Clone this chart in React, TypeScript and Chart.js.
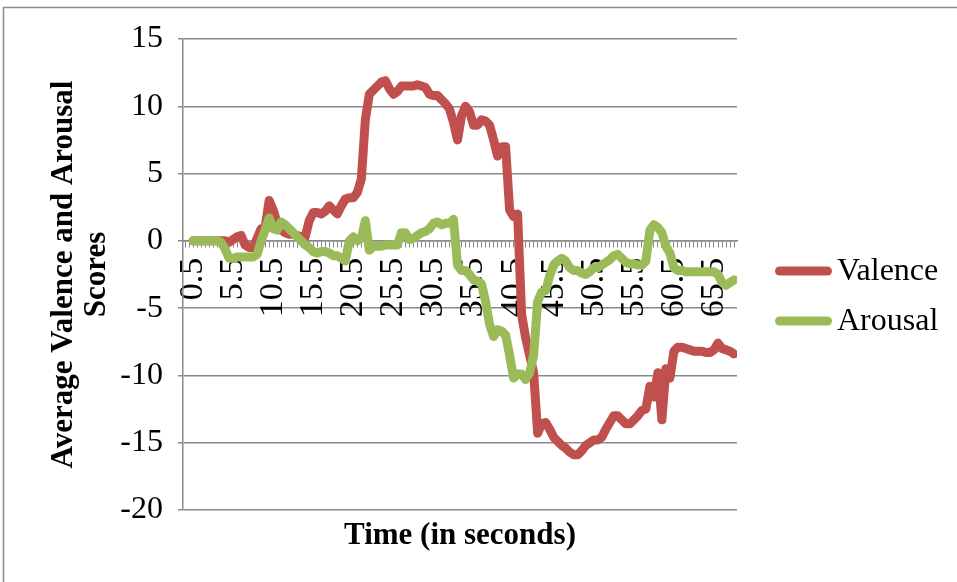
import { useEffect, useRef } from "react";
import { Chart, registerables } from "chart.js";

Chart.register(...registerables);

// Sample times (seconds), one every half second
const TIME_LABELS = [
  0.5, 1, 1.5, 2, 2.5, 3, 3.5, 4, 4.5, 5,
  5.5, 6, 6.5, 7, 7.5, 8, 8.5, 9, 9.5, 10,
  10.5, 11, 11.5, 12, 12.5, 13, 13.5, 14, 14.5, 15,
  15.5, 16, 16.5, 17, 17.5, 18, 18.5, 19, 19.5, 20,
  20.5, 21, 21.5, 22, 22.5, 23, 23.5, 24, 24.5, 25,
  25.5, 26, 26.5, 27, 27.5, 28, 28.5, 29, 29.5, 30,
  30.5, 31, 31.5, 32, 32.5, 33, 33.5, 34, 34.5, 35,
  35.5, 36, 36.5, 37, 37.5, 38, 38.5, 39, 39.5, 40,
  40.5, 41, 41.5, 42, 42.5, 43, 43.5, 44, 44.5, 45,
  45.5, 46, 46.5, 47, 47.5, 48, 48.5, 49, 49.5, 50,
  50.5, 51, 51.5, 52, 52.5, 53, 53.5, 54, 54.5, 55,
  55.5, 56, 56.5, 57, 57.5, 58, 58.5, 59, 59.5, 60,
  60.5, 61, 61.5, 62, 62.5, 63, 63.5, 64, 64.5, 65,
  65.5, 66, 66.5, 67, 67.5, 68,
];

const VALENCE = [
  0, 0, 0, 0, 0, 0, 0, 0,
  0, -0.1, 0.1, 0.3, 0.4, -0.3, -0.5, -0.5, 0.2, 0.9,
  1.0, 3.0, 2.3, 1.3, 0.8, 0.6, 0.5, 0.5, 0.4, 0.3,
  0.3, 1.5, 2.1, 2.1, 2.0, 2.2, 2.6, 2.3, 2.0, 2.6,
  3.1, 3.2, 3.2, 3.6, 4.6, 9.0, 10.9, 11.2, 11.5, 11.8,
  11.9, 11.3, 10.9, 11.1, 11.5, 11.5, 11.5, 11.5, 11.6, 11.5,
  11.4, 10.9, 10.8, 10.8, 10.5, 10.2, 9.8, 8.8, 7.5, 9.3,
  10.0, 9.6, 8.6, 8.6, 9.0, 8.9, 8.6, 7.5, 6.3, 7.0,
  7.0, 2.3, 1.8, 2.0, -5.5, -7.2, -8.5, -9.8, -14.3, -13.6,
  -13.5, -14.0, -14.6, -14.9, -15.2, -15.4, -15.7, -15.9, -15.9, -15.6,
  -15.2, -15.0, -14.8, -14.8, -14.6, -14.0, -13.5, -13.0, -13.0, -13.3,
  -13.6, -13.6, -13.3, -13.0, -12.6, -12.5, -10.8, -11.6, -9.8, -13.3,
  -9.5, -10.2, -8.2, -7.9, -7.9, -8.0, -8.1, -8.2, -8.2, -8.2,
  -8.3, -8.3, -8.1, -7.6, -8.0, -8.1, -8.2, -8.4,
];

const AROUSAL = [
  0, 0, 0, 0, 0, 0, 0, -0.1,
  -0.6, -1.3, -1.3, -1.2, -1.2, -1.2, -1.2, -1.2, -1.0, 0.0,
  0.8, 1.7, 0.9, 0.8, 1.4, 1.2, 0.9, 0.6, 0.3, 0.0,
  -0.3, -0.5, -0.8, -0.9, -0.8, -0.8, -0.9, -1.1, -1.1, -1.3,
  -1.5, 0.0, 0.3, 0.0, 0.2, 1.5, -0.7, -0.4, -0.4, -0.4,
  -0.3, -0.3, -0.3, -0.3, 0.6, 0.6, 0.1, 0.2, 0.4, 0.6,
  0.7, 0.9, 1.3, 1.4, 1.2, 1.3, 1.3, 1.6, -1.8, -2.2,
  -2.2, -2.5, -2.9, -3.0, -3.2, -4.5, -6.2, -7.1, -6.6, -6.7,
  -7.0, -8.5, -10.2, -9.9, -9.9, -10.3, -9.8, -8.5, -4.5, -3.8,
  -3.7, -2.6, -1.8, -1.5, -1.3, -1.5, -2.0, -2.2, -2.2, -2.4,
  -2.5, -2.3, -2.0, -2.0, -1.8, -1.6, -1.4, -1.1, -1.0, -1.3,
  -1.6, -1.7, -1.7, -1.8, -1.8, -1.5, 0.8, 1.2, 1.0, 0.6,
  -0.4, -0.9, -2.0, -2.2, -2.2, -2.3, -2.3, -2.3, -2.3, -2.3,
  -2.3, -2.3, -2.3, -2.5, -3.1, -3.3, -3.1, -2.9,
];

const SERIES_NAMES = ["Valence", "Arousal"];
const X_TITLE = "Time (in seconds)";
const Y_TITLE_LINES = ["Average Valence and Arousal", "Scores"];
const Y_MIN = -20;
const Y_MAX = 15;
const Y_STEP = 5;
const X_MIN = -0.75;
const X_MAX = 68.37;
const X_STEP = 0.5;
const X_LABEL_FIRST = 0.5;
const X_LABEL_EVERY = 5;

const RED = "#C0504D";
const GREEN = "#9BBB59";
const GRID = "#8a8a8a";
const SERIF = "'Liberation Serif', 'Times New Roman', serif";
const LINE_WIDTH = 9;

const toPoints = (values: number[]) =>
  values.map((y, i) => ({ x: TIME_LABELS[i], y }));

const isLabelled = (v: number) => {
  const k = (v - X_LABEL_FIRST) / X_LABEL_EVERY;
  return v >= X_LABEL_FIRST && Math.abs(k - Math.round(k)) < 1e-6;
};

// Frame, axis titles and legend drawn onto the chart canvas
const decorations = {
  id: "decorations",
  afterDraw(chart: Chart) {
    const { ctx, chartArea } = chart;
    ctx.save();

    // outer frame
    ctx.strokeStyle = GRID;
    ctx.lineWidth = 1.5;
    ctx.beginPath();
    ctx.moveTo(3.5, 600);
    ctx.lineTo(3.5, 7.5);
    ctx.lineTo(1000, 7.5);
    ctx.stroke();

    ctx.fillStyle = "#000";

    // x-axis title
    ctx.font = `bold 31px ${SERIF}`;
    ctx.textAlign = "center";
    ctx.textBaseline = "alphabetic";
    ctx.fillText(X_TITLE, (chartArea.left + chartArea.right) / 2, 544);

    // y-axis title (two rotated lines)
    const cy = (chartArea.top + chartArea.bottom) / 2;
    const baselines = [72, 105];
    Y_TITLE_LINES.forEach((line, i) => {
      ctx.save();
      ctx.translate(baselines[i], cy);
      ctx.rotate(-Math.PI / 2);
      ctx.textAlign = "center";
      ctx.textBaseline = "alphabetic";
      ctx.fillText(line, 0, 0);
      ctx.restore();
    });

    // legend
    const colors = [RED, GREEN];
    const rows = [271, 321];
    ctx.font = `32px ${SERIF}`;
    ctx.textAlign = "left";
    ctx.textBaseline = "alphabetic";
    SERIES_NAMES.forEach((name, i) => {
      ctx.strokeStyle = colors[i];
      ctx.lineWidth = LINE_WIDTH;
      ctx.lineCap = "round";
      ctx.beginPath();
      ctx.moveTo(779.5, rows[i]);
      ctx.lineTo(827.5, rows[i]);
      ctx.stroke();
      ctx.fillText(name, 837, rows[i] + 9);
    });

    ctx.restore();
  },
};

export default function App() {
  const canvasRef = useRef<HTMLCanvasElement>(null);

  useEffect(() => {
    const canvas = canvasRef.current;
    if (!canvas) return;
    const lineStyle = {
      borderWidth: LINE_WIDTH,
      borderCapStyle: "round" as const,
      borderJoinStyle: "round" as const,
      pointRadius: 0,
      tension: 0,
    };
    const chart = new Chart(canvas, {
      type: "line",
      data: {
        datasets: [
          {
            label: SERIES_NAMES[0],
            data: toPoints(VALENCE),
            borderColor: RED,
            backgroundColor: RED,
            order: 1,
            ...lineStyle,
          },
          {
            label: SERIES_NAMES[1],
            data: toPoints(AROUSAL),
            borderColor: GREEN,
            backgroundColor: GREEN,
            order: 0,
            ...lineStyle,
          },
        ],
      },
      options: {
        responsive: false,
        animation: false,
        devicePixelRatio: 1,
        layout: { padding: { top: 39, right: 220, bottom: 72, left: 0 } },
        plugins: {
          legend: { display: false },
          tooltip: { enabled: false },
          title: { display: false },
        },
        scales: {
          x: {
            type: "linear",
            min: X_MIN,
            max: X_MAX,
            position: { y: 0 },
            grid: {
              drawOnChartArea: false,
              drawTicks: true,
              tickLength: 6,
              color: GRID,
              lineWidth: 1,
            },
            border: { display: true, color: GRID, width: 1.5 },
            ticks: {
              stepSize: X_STEP,
              maxTicksLimit: 1000,
              includeBounds: false,
              autoSkip: false,
              maxRotation: 90,
              minRotation: 90,
              padding: 11,
              color: "#000",
              font: { family: SERIF, size: 34 },
              callback: (v: any) => (isLabelled(Number(v)) ? String(v) : ""),
            },
          },
          y: {
            min: Y_MIN,
            max: Y_MAX,
            afterFit: (scale: any) => {
              scale.width = 183;
            },
            grid: {
              color: GRID,
              lineWidth: 1.5,
              drawTicks: true,
              tickLength: 5,
            },
            border: { display: true, color: GRID, width: 1.5 },
            ticks: {
              stepSize: Y_STEP,
              padding: 15,
              color: "#000",
              font: { family: SERIF, size: 32 },
            },
          },
        },
      },
      plugins: [decorations],
    });
    return () => chart.destroy();
  }, []);

  return (
    <div
      style={{
        position: "fixed",
        left: 0,
        top: 0,
        width: 957,
        height: 582,
        background: "#fff",
      }}
    >
      <canvas
        ref={canvasRef}
        width={957}
        height={582}
        style={{ display: "block", width: 957, height: 582 }}
      />
    </div>
  );
}
